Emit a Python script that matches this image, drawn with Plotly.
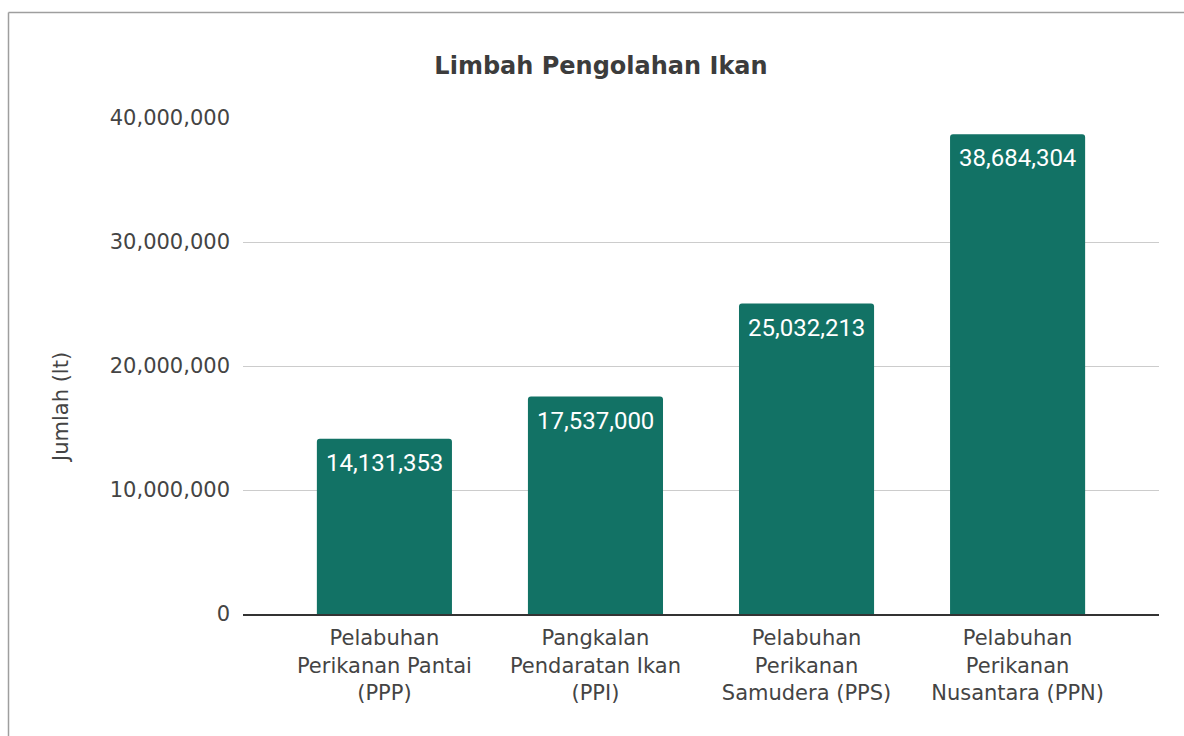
import plotly.graph_objects as go

categories = [
    "Pelabuhan<br>Perikanan Pantai<br>(PPP)",
    "Pangkalan<br>Pendaratan Ikan<br>(PPI)",
    "Pelabuhan<br>Perikanan<br>Samudera (PPS)",
    "Pelabuhan<br>Perikanan<br>Nusantara (PPN)",
]
values = [14131353, 17537000, 25032213, 38684304]
y_ticks = [0, 10000000, 20000000, 30000000, 40000000]

W, H = 1184, 736
L, R, T, B = 243, 25, 118, 122
pw, ph = W - L - R, H - T - B

def px(x):
    return (x - L) / pw

def py(y):
    return (H - B - y) / ph

BAR = "#127265"
TXT = "#444444"
FONT = "DejaVu Sans"

fig = go.Figure(
    go.Bar(
        x=categories,
        y=values,
        marker=dict(color=BAR, line=dict(width=0)),
        width=0.64,
        hoverinfo="skip",
    )
)

for c, v in zip(categories, values):
    fig.add_annotation(
        x=c, y=v, xref="x", yref="y",
        text=f"{v:,}",
        showarrow=False,
        yanchor="top",
        yshift=-8,
        font=dict(family="Roboto", size=24, color="white"),
    )

fig.update_layout(
    width=W,
    height=H,
    margin=dict(l=L, r=R, t=T, b=B, pad=0),
    paper_bgcolor="white",
    plot_bgcolor="white",
    showlegend=False,
    barcornerradius=3,
    title=dict(
        text="<b>Limbah Pengolahan Ikan</b>",
        font=dict(family=FONT, size=24, color="#3c3c3c"),
        x=601 / W,
        xanchor="center",
        xref="container",
        yref="container",
        y=1 - 66 / H,
        yanchor="middle",
    ),
    font=dict(family=FONT, size=21, color=TXT),
)

fig.update_xaxes(
    range=[-0.67, 3.67],
    showline=True,
    linecolor="#333333",
    linewidth=2,
    showgrid=False,
    ticks="",
    tickfont=dict(family=FONT, size=21, color=TXT),
    ticklabelstandoff=4,
    fixedrange=True,
)

fig.update_yaxes(
    range=[0, 40000000],
    tickvals=y_ticks,
    tickformat=",",
    showgrid=True,
    gridcolor="#cccccc",
    gridwidth=1,
    zeroline=False,
    showline=False,
    ticks="",
    tickfont=dict(family=FONT, size=21, color=TXT),
    ticklabelstandoff=12,
    fixedrange=True,
)

fig.add_annotation(
    text="Jumlah (lt)",
    xref="paper",
    yref="paper",
    x=px(61),
    y=py(408),
    xanchor="center",
    yanchor="middle",
    textangle=-90,
    showarrow=False,
    font=dict(family=FONT, size=21, color=TXT),
)

border = dict(color="#9e9e9e", width=1.5)
fig.add_shape(type="line", xref="paper", yref="paper",
              x0=px(8.5), x1=px(8.5), y0=py(740), y1=py(12.5), line=border)
fig.add_shape(type="line", xref="paper", yref="paper",
              x0=px(8.5), x1=px(1190), y0=py(12.5), y1=py(12.5), line=border)

fig.write_html(
    "out.html",
    config={"displayModeBar": False},
    post_script="document.body.style.margin='0';document.body.style.overflow='hidden';",
)
